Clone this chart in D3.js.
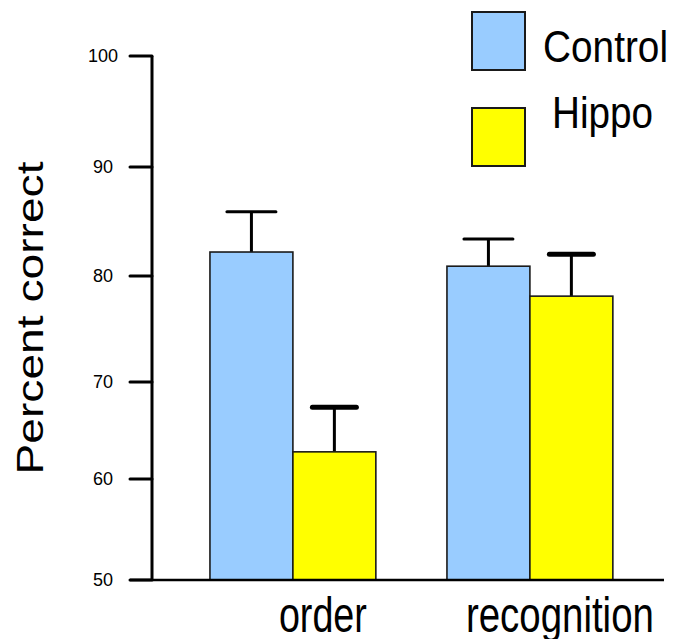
<!DOCTYPE html>
<html>
<head>
<meta charset="utf-8">
<script src="https://cdn.jsdelivr.net/npm/d3@7/dist/d3.min.js"></script>
<style>
  html, body { margin: 0; padding: 0; background: #fff; }
  svg { display: block; font-family: "Liberation Sans", Arial, Helvetica, sans-serif; }
</style>
</head>
<body>
<svg id="chart" width="683" height="639"></svg>
<script>
// ---- data ----
const categories = ["order", "recognition"];
const seriesNames = ["Control", "Hippo"];
const controlValues = [82.2, 80.9];
const hippoValues = [62.8, 78.1];
const controlErrors = [3.7, 2.5];
const hippoErrors = [4.6, 3.9];
const yTicks = [50, 60, 70, 80, 90, 100];

const colors = { Control: "#99CCFF", Hippo: "#FFFF00" };
const series = [
  { name: "Control", values: controlValues, errors: controlErrors, capW: 49, capStroke: 3 },
  { name: "Hippo", values: hippoValues, errors: hippoErrors, capW: 44, capStroke: 5 }
];

const svg = d3.select("#chart");

// y scale (the original axis is slightly non-uniform, so piecewise linear)
const y = d3.scaleLinear()
  .domain(yTicks)
  .range([580, 479, 382, 276, 167, 56]);

const x0 = d3.scaleBand()
  .domain(categories)
  .range([174.4, 648.4])
  .paddingInner(0.3)
  .paddingOuter(0.15);

const x1 = d3.scaleBand()
  .domain(seriesNames)
  .range([0, x0.bandwidth()])
  .padding(0);

const axisX = 152;
const baseY = y(50);

// bars
const groups = svg.append("g").selectAll("g")
  .data(categories)
  .join("g")
  .attr("transform", d => `translate(${x0(d)},0)`);

groups.each(function(cat, ci) {
  const g = d3.select(this);
  series.forEach(s => {
    const v = s.values[ci];
    const bx = x1(s.name);
    const bw = x1.bandwidth();
    const cx = bx + bw / 2;
    const top = y(v + s.errors[ci]);
    // error stem
    g.append("line")
      .attr("x1", cx).attr("x2", cx)
      .attr("y1", y(v)).attr("y2", top)
      .attr("stroke", "#000").attr("stroke-width", 3);
    // cap
    g.append("line")
      .attr("x1", cx - s.capW / 2).attr("x2", cx + s.capW / 2)
      .attr("y1", top).attr("y2", top)
      .attr("stroke", "#000").attr("stroke-width", s.capStroke)
      .attr("stroke-linecap", "round");
    g.append("rect")
      .attr("x", bx).attr("y", y(v))
      .attr("width", bw).attr("height", baseY - y(v))
      .attr("fill", colors[s.name])
      .attr("stroke", "#1a1a1a").attr("stroke-width", 1.6);
  });
});

// y axis
svg.append("line")
  .attr("x1", axisX).attr("x2", axisX)
  .attr("y1", y(100)).attr("y2", baseY)
  .attr("stroke", "#000").attr("stroke-width", 3);

svg.append("g").selectAll("line")
  .data(yTicks)
  .join("line")
  .attr("x1", 130).attr("x2", axisX)
  .attr("y1", d => y(d)).attr("y2", d => y(d))
  .attr("stroke", "#000").attr("stroke-width", 3)
  .attr("stroke-linecap", "round");

svg.append("g").selectAll("text")
  .data(yTicks)
  .join("text")
  .attr("x", 103)
  .attr("y", d => y(d))
  .attr("dy", "0.36em")
  .attr("text-anchor", "middle")
  .attr("font-size", 18)
  .text(d => d);

// baseline
svg.append("line")
  .attr("x1", 130).attr("x2", 664)
  .attr("y1", baseY).attr("y2", baseY)
  .attr("stroke", "#000").attr("stroke-width", 2.5);

// category labels
const labelLen = { order: 88, recognition: 188 };
svg.append("g").selectAll("text")
  .data(categories)
  .join("text")
  .attr("x", d => x0(d) + x0.bandwidth() / 2 + 30 - labelLen[d] / 2)
  .attr("y", 632)
  .attr("font-size", 50)
  .attr("textLength", d => labelLen[d])
  .attr("lengthAdjust", "spacingAndGlyphs")
  .text(d => d);

// y-axis title
svg.append("text")
  .attr("transform", "translate(43,318) rotate(-90)")
  .attr("text-anchor", "middle")
  .attr("font-size", 36)
  .attr("textLength", 313)
  .attr("lengthAdjust", "spacingAndGlyphs")
  .text("Percent correct");

// legend
const legend = [
  { name: "Control", boxY: 12, textX: 543, textY: 62, len: 125 },
  { name: "Hippo", boxY: 108, textX: 552, textY: 128, len: 101 }
];
legend.forEach(l => {
  svg.append("rect")
    .attr("x", 472).attr("y", l.boxY)
    .attr("width", 53).attr("height", 58)
    .attr("fill", colors[l.name])
    .attr("stroke", "#1a1a1a").attr("stroke-width", 2);
  svg.append("text")
    .attr("x", l.textX).attr("y", l.textY)
    .attr("font-size", 44)
    .attr("textLength", l.len)
    .attr("lengthAdjust", "spacingAndGlyphs")
    .text(l.name);
});
</script>
</body>
</html>
